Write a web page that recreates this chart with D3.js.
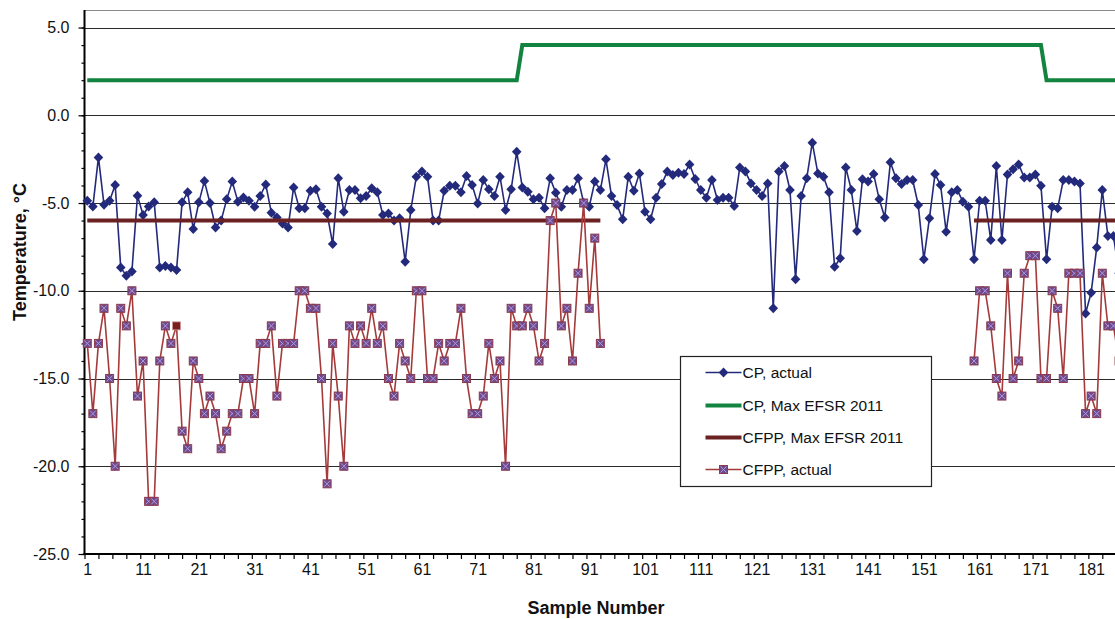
<!DOCTYPE html>
<html>
<head>
<meta charset="utf-8">
<script src="https://cdn.jsdelivr.net/npm/d3@7"></script>
<style>
  body { margin: 0; background: #fff; }
  svg { display: block; font-family: "Liberation Sans", Arial, sans-serif; }
</style>
</head>
<body>
<svg id="chart" width="1115" height="619"></svg>
<script>
// Cloud point (CP) and cold filter plugging point (CFPP) per sample, in °C.
const cpActual = [
  -4.87, -5.2, -2.4, -5.1, -4.87, -3.97, -8.68, -9.14, -8.9, -4.58, -5.68, -5.2, -4.96, -8.68, -8.59, -8.68, -8.82, -4.96, -4.39, -6.48, -4.96, -3.75, -5.0, -6.39,
  -6.0, -4.79, -3.78, -4.92, -4.68, -4.87, -5.21, -4.6, -3.94, -5.55, -5.82, -6.16, -6.39, -4.11, -5.3, -5.3, -4.3, -4.22, -5.21, -5.59, -7.34, -3.59, -5.49,
  -4.26, -4.26, -4.73, -4.6, -4.16, -4.39, -5.68, -5.59, -6.0, -5.87, -8.34, -5.4, -3.5, -3.21, -3.5, -6.0, -6.0, -4.3, -4.01, -4.01, -4.39, -3.46, -3.97,
  -5.02, -3.69, -4.22, -4.6, -3.5, -5.4, -4.22, -2.08, -4.11, -4.35, -4.79, -4.7, -5.3, -3.59, -4.41, -5.21, -4.26, -4.26, -3.59, -4.98, -5.21, -3.78, -4.26, -2.51,
  -4.6, -5.11, -5.93, -3.5, -4.3, -3.31, -5.49, -5.93, -4.7, -3.92, -3.21, -3.4, -3.27, -3.35, -2.8, -3.63, -4.26, -4.7, -3.69, -4.83, -4.7, -4.7, -5.17,
  -2.97, -3.21, -3.88, -4.26, -4.6, -3.88, -11.0, -3.21, -2.89, -4.26, -9.35, -4.6, -3.59, -1.56, -3.31, -3.5, -4.39, -8.63, -8.15, -2.97, -4.26, -6.6, -3.65,
  -3.78, -3.35, -4.79, -5.82, -2.68, -3.59, -3.92, -3.69, -3.69, -5.11, -8.21, -5.87, -3.35, -3.97, -6.63, -4.39, -4.26, -4.92, -5.21, -8.21, -4.87, -4.87, -7.11,
  -2.89, -7.11, -3.37, -3.08, -2.8, -3.54, -3.54, -3.37, -4.01, -8.21, -5.21, -5.3, -3.69, -3.69, -3.78, -3.88, -11.29, -10.11, -7.53, -4.26, -6.88, -6.88, -9.0
];

const cfppActualFirst = [
  -13, -17, -13, -11, -15, -20, -11, -12, -10, -16, -14, -22, -22, -14, -12, -13, -12, -18, -19, -14, -15, -17, -16, -17,
  -19, -18, -17, -17, -15, -15, -17, -13, -13, -12, -16, -13, -13, -13, -10, -10, -11, -11, -15, -21, -13, -16, -20,
  -12, -13, -12, -13, -11, -13, -12, -15, -16, -13, -14, -15, -10, -10, -15, -15, -13, -14, -13, -13, -11, -15, -17,
  -17, -16, -13, -15, -14, -20, -11, -12, -12, -11, -12, -14, -13, -6, -5, -12, -11, -14, -9, -5, -11, -7, -13
];
const cfppActualSecondStart = 160;
const cfppActualSecond = [
  -14, -10, -10, -12, -15, -16, -9, -15, -14, -9, -8, -8, -15, -15, -10, -11, -15, -9, -9, -9, -17, -16, -17, -9, -12, -12, -14
];
// Samples whose CFPP marker is drawn as a plain filled square
const cfppPlainMarkers = [17];

// Specification limits: [first sample, last sample, value]
const cpMaxPeriods = [[1, 78, 2], [79, 172, 4], [173, 186, 2]];
const cfppMaxPeriods = [[1, 93, -6], [160, 186, -6]];

const yTicks = [5, 0, -5, -10, -15, -20, -25];
const xTickLabels = [1, 11, 21, 31, 41, 51, 61, 71, 81, 91, 101, 111, 121, 131, 141, 151, 161, 171, 181];

const seriesNames = ["CP, actual", "CP, Max EFSR 2011", "CFPP, Max EFSR 2011", "CFPP, actual"];

// ---- build per-sample tables ----
const n = cpActual.length;
const samples = d3.range(1, n + 1);
function expandPeriods(periods) {
  return samples.map(s => {
    const p = periods.find(([a, b]) => s >= a && s <= b);
    return p ? p[2] : null;
  });
}
const cpMax = expandPeriods(cpMaxPeriods);
const cfppMax = expandPeriods(cfppMaxPeriods);
const cfppActual = samples.map(s => {
  if (s <= cfppActualFirst.length) return cfppActualFirst[s - 1];
  const k = s - cfppActualSecondStart;
  return (k >= 0 && k < cfppActualSecond.length) ? cfppActualSecond[k] : null;
});

const colors = {
  cp: "#232a7b",
  cpMax: "#13843f",
  cfppMax: "#6b2121",
  cfpp: "#a53a3b",
  cfppFill: "#6e4b8d",
  cfppCross: "#b197e0",
  cfppEdge: "#8c3a4c"
};

// ---- layout ----
const svg = d3.select("#chart");
const pLeft = 84.5, pTop = 10, pBottom = 554;
const step = 5.577;
const x = d3.scaleLinear().domain([0.5, 190.5]).range([pLeft, pLeft + 190 * step]);
const y = d3.scaleLinear().domain([-25, 6]).range([pBottom, pTop]);
const pRight = x.range()[1];

svg.append("rect").attr("width", 1115).attr("height", 619).attr("fill", "#fff");

// plot frame top edge
svg.append("line")
  .attr("x1", pLeft).attr("x2", pRight).attr("y1", pTop + 0.5).attr("y2", pTop + 0.5)
  .attr("stroke", "#8a8a8a").attr("stroke-width", 1.2);

// horizontal gridlines
svg.append("g").selectAll("line")
  .data(yTicks.filter(v => v > -25))
  .join("line")
  .attr("x1", pLeft).attr("x2", pRight)
  .attr("y1", d => Math.round(y(d)) + 0.5).attr("y2", d => Math.round(y(d)) + 0.5)
  .attr("stroke", "#2a2a2a").attr("stroke-width", 1);

// ---- axes ----
const yAxis = svg.append("g").attr("transform", `translate(${pLeft},0)`);
yAxis.call(d3.axisLeft(y).tickValues(d3.range(-25, 6, 1)).tickSize(3).tickFormat(""))
  .call(g => g.select(".domain").remove())
  .call(g => g.selectAll("line").attr("stroke", "#000").attr("stroke-width", 1.2));
yAxis.append("g")
  .call(d3.axisLeft(y).tickValues(yTicks).tickSize(6).tickPadding(9).tickFormat(d => d.toFixed(1)))
  .call(g => g.select(".domain").remove())
  .call(g => g.selectAll("line").attr("stroke", "#000").attr("stroke-width", 1.2))
  .call(g => g.selectAll("text").attr("font-size", 16).attr("fill", "#111")
    .attr("font-family", "'Liberation Sans', Arial, sans-serif"));
svg.append("line")
  .attr("x1", pLeft).attr("x2", pLeft).attr("y1", pTop).attr("y2", pBottom + 1)
  .attr("stroke", "#000").attr("stroke-width", 2);

const xAxis = svg.append("g").attr("transform", `translate(0,${pBottom})`);
xAxis.call(d3.axisBottom(x).tickValues(d3.range(0.5, 190, 2.5)).tickSize(5).tickFormat(""))
  .call(g => g.select(".domain").remove())
  .call(g => g.selectAll("line").attr("stroke", "#000").attr("stroke-width", 1.2));
xAxis.append("g")
  .call(d3.axisBottom(x).tickValues(xTickLabels).tickSize(0).tickPadding(10).tickFormat(d => String(d)))
  .call(g => g.select(".domain").remove())
  .call(g => g.selectAll("text").attr("font-size", 16).attr("fill", "#111")
    .attr("font-family", "'Liberation Sans', Arial, sans-serif"));
svg.append("line")
  .attr("x1", pLeft - 1).attr("x2", pRight).attr("y1", pBottom).attr("y2", pBottom)
  .attr("stroke", "#000").attr("stroke-width", 2);

// axis titles
svg.append("text")
  .attr("x", 596).attr("y", 614)
  .attr("text-anchor", "middle").attr("font-weight", "bold").attr("font-size", 18).attr("fill", "#111")
  .text("Sample Number");
svg.append("text")
  .attr("transform", "translate(26,252) rotate(-90)")
  .attr("text-anchor", "middle").attr("font-weight", "bold").attr("font-size", 18).attr("fill", "#111")
  .text("Temperature, °C");

// ---- series ----
const line = vals => d3.line()
  .defined(i => vals[i - 1] != null)
  .x(i => x(i)).y(i => y(vals[i - 1]))(samples);

const diamond = "M0,-5L4.8,0L0,5L-4.8,0Z";

function drawCfppMarker(g, plain) {
  if (plain) {
    g.append("rect").attr("x", -4).attr("y", -4).attr("width", 8).attr("height", 8)
      .attr("fill", "#7c1c1f").attr("stroke", "#c99a9a").attr("stroke-width", 0.8);
    return;
  }
  g.append("rect").attr("x", -4).attr("y", -4).attr("width", 8).attr("height", 8)
    .attr("fill", colors.cfppFill).attr("stroke", colors.cfppEdge).attr("stroke-width", 1);
  g.append("path").attr("d", "M-3,-3L3,3M3,-3L-3,3")
    .attr("stroke", colors.cfppCross).attr("stroke-width", 1).attr("fill", "none");
}

const plot = svg.append("g");

// CP actual
plot.append("path").attr("d", line(cpActual))
  .attr("fill", "none").attr("stroke", colors.cp).attr("stroke-width", 1.6).attr("stroke-linejoin", "round");
plot.append("g").selectAll("path")
  .data(samples.filter(s => cpActual[s - 1] != null))
  .join("path")
  .attr("d", diamond)
  .attr("transform", s => `translate(${x(s)},${y(cpActual[s - 1])})`)
  .attr("fill", colors.cp);

// CP limit
plot.append("path").attr("d", line(cpMax))
  .attr("fill", "none").attr("stroke", colors.cpMax).attr("stroke-width", 4);

// CFPP limit
plot.append("path").attr("d", line(cfppMax))
  .attr("fill", "none").attr("stroke", colors.cfppMax).attr("stroke-width", 4);

// CFPP actual
plot.append("path").attr("d", line(cfppActual))
  .attr("fill", "none").attr("stroke", colors.cfpp).attr("stroke-width", 1.6).attr("stroke-linejoin", "round");
plot.append("g").selectAll("g")
  .data(samples.filter(s => cfppActual[s - 1] != null))
  .join("g")
  .attr("transform", s => `translate(${x(s)},${y(cfppActual[s - 1])})`)
  .each(function (s) { drawCfppMarker(d3.select(this), cfppPlainMarkers.includes(s)); });

// ---- legend ----
const legend = svg.append("g").attr("transform", "translate(680.5,356.5)");
legend.append("rect").attr("width", 251).attr("height", 130)
  .attr("fill", "#fff").attr("stroke", "#222").attr("stroke-width", 1.2);
const rowY = [16, 49, 81, 113];
seriesNames.forEach((name, k) => {
  const row = legend.append("g").attr("transform", `translate(0,${rowY[k]})`);
  const style = [
    { c: colors.cp, w: 1.6 },
    { c: colors.cpMax, w: 4 },
    { c: colors.cfppMax, w: 4 },
    { c: colors.cfpp, w: 1.6 }
  ][k];
  row.append("line").attr("x1", 25).attr("x2", 61).attr("y1", 0).attr("y2", 0)
    .attr("stroke", style.c).attr("stroke-width", style.w);
  if (k === 0) row.append("path").attr("d", diamond).attr("transform", "translate(43,0)").attr("fill", colors.cp);
  if (k === 3) drawCfppMarker(row.append("g").attr("transform", "translate(43,0)"), false);
  row.append("text").attr("x", 62).attr("y", 0).attr("dy", "0.36em")
    .attr("font-size", 15.5).attr("fill", "#111").text(name);
});
</script>
</body>
</html>
